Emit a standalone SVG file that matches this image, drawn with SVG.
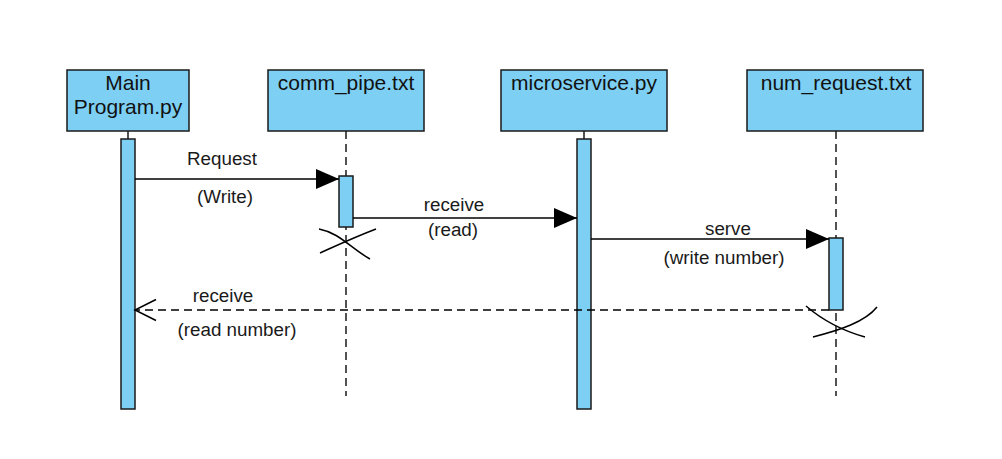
<svg xmlns="http://www.w3.org/2000/svg" width="1002" height="459" viewBox="0 0 1002 459">
<style>
.box{fill:#7dcff4;stroke:#1a1a1a;stroke-width:1.5}
.act{fill:#7dcff4;stroke:#1a1a1a;stroke-width:1.5}
.t{font-family:"Liberation Sans",Arial,sans-serif;font-size:21px;fill:#111;text-anchor:middle}
.lbl{font-family:"Liberation Sans",Arial,sans-serif;font-size:18.8px;fill:#1a1a1a;text-anchor:middle}
.life{stroke:#1a1a1a;stroke-width:1.5;stroke-dasharray:8,5;fill:none}
.msg{stroke:#000;stroke-width:1.5;fill:none}
.x{stroke:#000;stroke-width:1.5;fill:none}
</style>
<defs>
<marker id="fill" markerWidth="24" markerHeight="20" refX="23" refY="10" orient="auto" markerUnits="userSpaceOnUse"><path d="M0,0 L23,10 L0,20 Z" fill="#000"/></marker>
<marker id="open" markerWidth="24" markerHeight="24" refX="22" refY="12" orient="auto" markerUnits="userSpaceOnUse"><path d="M1,1.5 L22,12 L1,22.5" fill="none" stroke="#000" stroke-width="1.5"/></marker>
</defs>
<rect width="1002" height="459" fill="#fff"/>
<g id="main">
<rect class="box" x="67" y="70" width="122" height="61"/>
<text class="t" x="128" y="90">Main</text>
<text class="t" x="128" y="114">Program.py</text>
<line x1="128" y1="131" x2="128" y2="139" stroke="#1a1a1a" stroke-width="1.5"/>
<rect class="act" x="121" y="139" width="14" height="270"/>
</g>
<g id="comm_pipe">
<rect class="box" x="268" y="70" width="156" height="61"/>
<text class="t" x="346" y="90">comm_pipe.txt</text>
<line class="life" x1="346" y1="131" x2="346" y2="396"/>
<rect class="act" x="339" y="176" width="14" height="51"/>
<path class="x" d="M319,229 C340,233 350,248 370,259"/>
<path class="x" d="M376,229 C355,237 340,244 320,253"/>
</g>
<g id="microservice">
<rect class="box" x="501" y="70" width="166" height="61"/>
<text class="t" x="584" y="90">microservice.py</text>
<line x1="584" y1="131" x2="584" y2="139" stroke="#1a1a1a" stroke-width="1.5"/>
<rect class="act" x="577" y="139" width="14" height="270"/>
</g>
<g id="num_request">
<rect class="box" x="747" y="70" width="176" height="61"/>
<text class="t" x="836" y="90">num_request.txt</text>
<line class="life" x1="836" y1="131" x2="836" y2="396"/>
<rect class="act" x="829" y="238" width="14" height="72"/>
<path class="x" d="M806,306 C820,318 840,330 865,337"/>
<path class="x" d="M877,307 C865,322 840,330 813,337"/>
</g>
<g id="connectors">
<line class="msg" x1="135" y1="179" x2="339" y2="179" marker-end="url(#fill)"/>
<text class="lbl" x="222" y="165">Request</text>
<text class="lbl" x="225" y="203">(Write)</text>
<line class="msg" x1="353" y1="218" x2="577" y2="218" marker-end="url(#fill)"/>
<text class="lbl" x="454" y="211">receive</text>
<text class="lbl" x="453" y="236">(read)</text>
<line class="msg" x1="591" y1="239" x2="829" y2="239" marker-end="url(#fill)"/>
<text class="lbl" x="728" y="235">serve</text>
<text class="lbl" x="724" y="264">(write number)</text>
<line class="msg" x1="829" y1="310" x2="135" y2="310" stroke-dasharray="8,5" marker-end="url(#open)"/>
<text class="lbl" x="223" y="302">receive</text>
<text class="lbl" x="237" y="336">(read number)</text>
</g>
</svg>
